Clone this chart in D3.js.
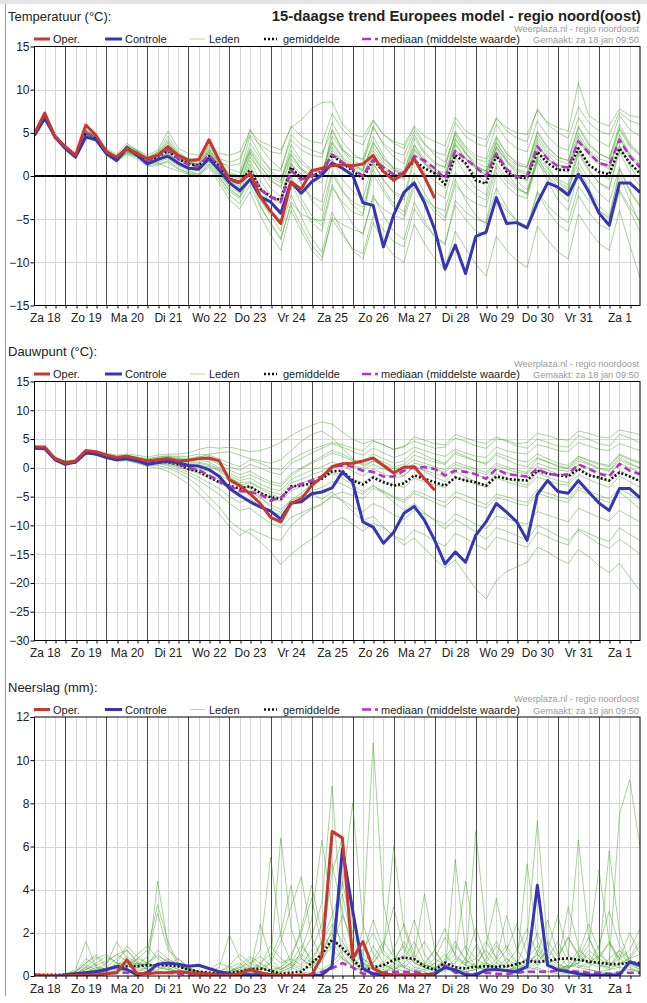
<!DOCTYPE html>
<html>
<head>
<meta charset="utf-8">
<script src="https://cdn.jsdelivr.net/npm/d3@7"></script>
<style>
  body { margin: 0; background: #fff; }
  svg { display: block; }
  text { font-family: "Liberation Sans", Arial, sans-serif; }
</style>
</head>
<body>
<svg id="chart" width="647" height="1003"></svg>
<script>
// 15-daagse trend Europees model - pluim temperatuur, dauwpunt, neerslag
// tijdstappen van 6 uur vanaf za 18 06:00 (index 0) t/m zo 2 00:00 (index 59)

const dayLabels = ['Za 18', 'Zo 19', 'Ma 20', 'Di 21', 'Wo 22', 'Do 23', 'Vr 24', 'Za 25',
    'Zo 26', 'Ma 27', 'Di 28', 'Wo 29', 'Do 30', 'Vr 31', 'Za 1'];

const legendLabels = ['Oper.', 'Controle', 'Leden', 'gemiddelde', 'mediaan (middelste waarde)'];

// ---- temperatuur (°C) ----
const tempTicks = [-15, -10, -5, 0, 5, 10, 15];
const tempOper = [4.9,7.3,4.5,3.4,2.4,5.9,4.7,2.8,2.2,3.2,2.6,2.0,2.4,3.4,2.4,1.8,1.9,4.2,1.8,-0.4,
    -0.7,0.3,-2.4,-4.1,-5.5,-0.7,-1.5,0.6,0.9,1.2,1.3,1.2,1.4,2.4,0.5,-0.5,0.3,2.0,-0.1,-2.6];
const tempControl = [4.7,6.7,4.5,3.2,2.2,4.5,4.2,2.6,1.8,3.3,2.4,1.4,1.9,2.3,1.5,0.9,0.8,2.0,0.7,-0.8,
    -1.7,-0.4,-2.4,-3.0,-4.3,-0.7,-2.0,-0.7,0.1,1.5,0.9,0.1,-3.1,-3.4,-8.2,-4.5,-1.9,-0.8,-3.1,-6.2,
    -10.8,-8.0,-11.3,-7.0,-6.5,-2.5,-5.5,-5.4,-6.0,-3.1,-0.8,-1.3,-2.2,0.2,-1.8,-4.3,-5.7,-0.8,-0.8,-1.9];
const tempMean = [4.8,7.0,4.6,3.3,2.3,5.0,4.3,2.8,2.0,3.1,2.6,1.8,2.2,2.9,2.0,1.4,1.2,2.3,1.1,-0.3,
    -0.8,0.7,-1.5,-2.4,-2.8,1.0,-0.3,0.0,0.5,2.4,1.5,0.6,-0.3,1.9,0.5,-0.1,0.4,1.8,0.9,0.3,
    -1.0,2.4,1.5,-0.5,-0.9,2.4,0.5,-0.2,-0.2,2.8,1.5,0.7,0.7,3.2,1.3,0.5,0.2,3.2,1.5,0.3];
const tempMedian = [4.8,7.0,4.6,3.3,2.3,5.0,4.3,2.8,2.0,3.1,2.6,1.8,2.3,3.0,2.0,1.3,1.1,2.4,1.0,-0.4,
    -0.9,0.4,-1.6,-2.4,-3.0,0.6,-0.4,0.0,0.4,2.5,1.6,0.8,0.0,1.9,1.0,0.2,0.3,2.3,1.8,0.9,
    -0.3,2.9,2.0,1.0,0.0,2.6,0.8,-0.1,0.0,3.4,2.0,1.1,1.0,4.0,2.7,1.5,1.2,4.2,2.3,1.0];
const tempMembers = [
    [5.0,7.4,4.9,3.6,2.6,5.4,4.6,3.2,2.5,3.8,3.0,2.4,3.0,5.2,3.2,2.6,2.4,3.8,2.6,
     2.4,2.8,5.2,4.0,3.5,3.0,5.6,6.5,7.8,8.5,8.6,6.0,4.8,4.5,6.5,4.8,4.0,3.6,5.8,4.6,4.0,3.5,6.8,5.2,4.6,4.2,6.6,5.6,5.0,4.8,7.6,6.2,5.6,5.2,10.8,7.0,6.2,5.8,7.8,7.0,6.8],
    [4.6,6.8,4.4,3.0,2.0,4.6,4.0,2.4,1.6,2.8,2.2,1.4,1.8,2.6,1.4,0.8,0.6,2.0,0.4,
     -0.8,-1.4,1.8,-0.6,-2.2,-3.0,1.2,-1.0,-2.4,-3.0,2.0,-0.4,-1.8,-2.6,1.6,-0.6,-1.8,-2.4,2.2,0.4,-0.6,-1.4,3.0,1.2,0.2,-0.6,3.4,1.6,0.6,0.2,3.8,2.0,1.0,0.4,4.2,2.4,1.4,0.8,4.4,2.2,1.0],
    [5.0,7.2,4.8,3.5,2.5,5.2,4.5,3.0,2.2,3.4,2.8,2.0,2.6,3.8,2.4,1.8,1.6,3.0,1.4,
     0.4,0.0,3.2,1.6,0.2,-0.6,3.6,1.8,0.8,0.4,3.8,2.0,1.0,0.6,3.4,1.6,0.6,0.2,3.0,1.4,0.4,-0.2,3.6,2.0,1.0,0.6,3.8,2.2,1.2,1.0,4.6,2.8,1.8,1.4,5.0,3.0,2.0,1.6,5.4,3.4,2.4],
    [4.7,6.9,4.5,3.1,2.1,4.8,4.1,2.6,1.8,2.6,2.2,1.2,1.4,1.6,0.8,0.4,0.2,1.2,-0.4,
     -2.2,-3.2,-1.0,-3.6,-5.4,-7.2,-3.4,-5.8,-8.0,-9.4,-5.0,-6.8,-8.4,-9.0,-4.6,-6.2,-7.6,-8.2,-3.8,-5.6,-7.0,-7.8,-3.4,-5.0,-6.4,-6.8,-2.6,-4.0,-5.2,-5.8,-1.8,-3.4,-4.6,-5.4,-1.2,-2.8,-4.0,-4.8,-1.6,-3.6,-5.2],
    [4.8,7.0,4.6,3.2,2.2,4.8,4.2,2.6,1.8,2.9,2.3,1.5,1.6,2.0,1.2,0.6,0.2,1.6,0.0,
     -1.8,-2.6,-0.4,-2.8,-4.6,-6.4,-2.2,-4.8,-7.2,-8.8,-4.2,-6.4,-8.6,-9.6,-5.4,-7.6,-9.2,-10.0,-5.6,-7.8,-9.6,-10.8,-6.4,-8.4,-10.2,-11.6,-7.0,-8.6,-9.8,-10.6,-5.8,-7.4,-8.8,-9.6,-4.4,-6.2,-7.8,-8.6,-4.0,-8.0,-11.8],
    [4.9,7.1,4.7,3.4,2.4,5.1,4.4,2.9,2.1,3.6,2.9,2.1,2.8,4.6,2.8,2.0,1.8,3.4,1.8,
     0.8,0.4,4.6,2.4,0.6,-0.4,2.6,0.8,-0.2,-0.8,5.4,3.2,1.8,1.2,5.8,3.6,2.2,1.4,4.8,2.8,1.6,1.0,5.2,3.4,2.4,2.0,6.0,4.2,3.2,2.8,6.4,4.6,3.4,3.0,6.8,5.0,4.0,3.4,7.0,5.4,4.6],
    [4.7,6.9,4.5,3.2,2.2,4.9,4.2,2.7,1.9,3.0,2.5,1.7,2.0,2.6,1.8,1.2,1.0,2.2,0.8,
     -0.6,-1.2,2.6,0.4,-1.4,-2.4,1.6,-0.8,-2.8,-4.0,0.6,-1.6,-3.4,-4.4,0.2,-1.8,-3.6,-4.6,-0.6,-2.6,-4.2,-5.2,-1.0,-2.4,-3.2,-3.6,1.0,-0.6,-1.6,-2.0,2.4,0.8,-0.4,-1.0,3.2,1.4,0.2,-0.4,3.6,1.6,0.2],
    [4.8,7.0,4.5,3.2,2.3,5.0,4.3,2.8,1.9,2.7,2.3,1.4,1.5,1.0,0.6,0.2,0.0,1.0,-0.8,
     -2.8,-3.8,-1.8,-4.6,-6.8,-8.6,-4.0,-6.4,-8.6,-9.8,-4.8,-5.6,-6.2,-6.6,-2.6,-3.8,-4.6,-5.0,-1.2,-2.6,-3.6,-4.0,0.4,-1.0,-2.2,-2.8,1.4,-0.2,-1.4,-2.0,2.0,0.4,-0.8,-1.6,1.6,-0.4,-2.0,-3.0,1.0,-1.6,-3.4],
    [4.9,7.2,4.7,3.4,2.4,5.2,4.4,3.0,2.2,3.3,2.8,2.0,2.4,3.4,2.2,1.6,1.4,3.0,1.6,
     1.2,1.4,5.4,3.4,1.8,0.8,4.2,3.0,2.4,2.2,6.2,4.0,2.6,1.8,4.6,2.4,0.8,0.0,3.6,1.6,0.2,-0.6,4.4,2.6,1.2,0.4,4.0,1.8,0.2,-0.6,3.0,1.0,-0.6,-1.4,2.8,0.8,-0.8,-1.6,3.4,1.2,-0.6],
    [4.6,6.8,4.4,3.1,2.1,4.7,4.1,2.5,1.7,2.5,2.0,1.1,1.2,1.8,0.9,0.3,0.0,1.4,-0.2,
     -1.6,-2.4,0.6,-2.0,-3.8,-5.2,-0.8,-3.2,-5.4,-6.4,-1.4,-3.0,-4.2,-4.6,1.4,-0.4,-2.0,-2.8,1.8,-0.2,-1.8,-2.6,2.2,0.2,-1.4,-2.2,2.6,0.4,-1.2,-2.2,1.8,-0.6,-2.8,-4.0,0.4,-2.2,-4.0,-5.0,0.8,-1.8,-3.6],
    [5.0,7.3,4.8,3.5,2.5,5.3,4.6,3.1,2.3,3.5,3.0,2.2,2.7,4.2,2.6,2.0,1.8,3.6,2.0,
     1.6,2.0,4.8,3.6,2.8,2.6,5.8,4.6,4.0,3.8,7.2,5.4,4.2,3.6,6.4,4.8,3.8,3.2,5.6,3.8,2.4,1.6,4.8,2.8,1.0,0.0,3.2,1.0,-0.6,-1.6,2.2,0.0,-1.8,-3.0,1.0,-1.4,-3.4,-4.6,0.2,-2.8,-5.6],
    [4.8,7.0,4.6,3.3,2.3,5.0,4.3,2.8,2.0,3.2,2.7,1.9,2.3,3.2,2.1,1.5,1.3,2.6,1.2,
     -0.2,-0.6,1.0,-1.2,-2.6,-3.2,1.4,0.2,-0.6,0.0,3.0,1.6,0.8,0.2,2.4,1.0,0.0,-0.4,2.6,1.4,0.4,-0.2,3.0,2.0,1.2,0.6,2.8,0.8,-0.2,-0.4,3.6,2.0,1.2,1.0,4.2,2.8,1.6,1.2,4.4,2.4,1.2],
    [4.7,6.9,4.5,3.2,2.2,4.9,4.2,2.7,1.9,2.8,2.4,1.6,1.8,2.4,1.4,0.8,0.6,1.8,0.2,
     -1.2,-2.0,1.4,-1.4,-3.2,-4.4,0.0,-2.6,-4.6,-5.8,-1.0,-3.4,-5.6,-6.8,-2.2,-4.6,-6.4,-7.4,-3.0,-5.2,-7.0,-8.0,-2.8,-4.2,-5.0,-5.4,0.4,-1.2,-2.2,-2.6,1.6,0.0,-1.2,-1.8,2.6,0.6,-0.8,-1.4,2.8,0.4,-1.2],
    [4.9,7.1,4.6,3.3,2.4,5.1,4.4,2.9,2.1,3.2,2.7,1.9,2.3,3.6,2.3,1.6,1.4,2.8,1.3,
     0.0,-0.4,3.0,1.2,-0.4,-1.4,2.0,0.6,0.0,0.2,4.6,3.0,2.2,2.0,5.6,3.8,2.8,2.4,5.2,3.6,2.8,2.4,6.2,4.6,3.8,3.4,6.8,5.2,4.4,4.0,7.8,6.0,5.0,4.4,8.0,6.2,5.2,4.8,7.4,6.4,6.0],
    [4.8,7.1,4.6,3.3,2.3,5.0,4.2,2.7,1.9,2.9,2.4,1.6,1.9,2.8,1.6,1.0,0.8,2.0,0.4,
     -1.4,-2.4,-0.2,-3.4,-5.6,-7.4,-3.0,-4.4,-5.0,-5.2,0.2,-1.8,-3.0,-3.6,0.8,-1.4,-3.2,-4.2,0.4,-2.0,-3.8,-4.8,-0.4,-2.8,-4.6,-5.6,-1.4,-3.6,-5.2,-6.2,-2.0,-4.0,-5.6,-6.4,-2.2,-4.2,-5.6,-6.2,-1.8,-4.0,-6.4],
    [4.9,7.0,4.7,3.4,2.4,5.0,4.4,2.9,2.1,3.3,2.8,2.0,2.5,4.0,2.5,1.8,1.6,3.2,1.5,
     0.2,-0.2,3.8,2.0,0.8,0.6,4.8,3.6,3.0,2.6,5.2,3.0,1.4,0.6,4.0,2.0,0.8,0.4,4.4,2.6,1.4,1.0,5.0,3.2,2.0,1.6,4.6,2.6,1.4,1.0,5.2,3.4,2.2,1.8,5.8,3.8,2.6,2.0,5.6,3.6,2.4],
    [4.8,7.0,4.6,3.3,2.3,5.1,4.3,2.8,2.0,3.1,2.6,1.8,2.2,3.1,2.0,1.4,1.2,2.6,1.0,
     -0.4,-0.8,2.2,0.6,-0.6,-1.2,2.4,0.8,0.2,0.0,3.4,1.6,0.6,0.0,3.0,1.2,0.2,-0.2,3.2,1.6,0.6,0.0,3.8,2.0,0.8,0.2,3.4,1.8,0.8,0.4,4.2,2.4,1.4,0.8,4.6,2.6,1.6,1.0,4.8,2.6,1.4],
    [4.9,7.1,4.7,3.4,2.4,5.2,4.5,3.0,2.1,3.3,2.7,1.9,2.4,3.3,2.1,1.5,1.3,2.8,1.2,
     0.2,0.0,2.8,1.0,-0.2,-0.8,3.0,1.4,0.6,0.4,4.0,2.2,1.2,0.8,3.8,2.0,1.0,0.6,3.6,2.0,0.8,0.4,4.2,2.6,1.6,1.0,4.4,2.6,1.6,1.2,5.0,3.2,2.2,1.8,5.6,3.6,2.6,2.0,6.0,3.8,2.6]
];

// ---- dauwpunt (°C) ----
const dewTicks = [-30, -25, -20, -15, -10, -5, 0, 5, 10, 15];
const dewOper = [3.6,3.6,1.6,0.8,1.2,3.0,2.8,2.2,1.8,2.0,1.6,1.2,1.4,1.6,1.2,1.3,1.6,1.7,1.2,-2.1,
    -3.1,-4.5,-6.2,-8.6,-9.4,-6.2,-5.4,-3.1,-1.6,0.2,0.7,0.8,1.2,1.7,0.4,-0.9,0.1,0.2,-1.9,-3.9];
const dewControl = [3.4,3.3,1.4,0.6,1.0,2.6,2.4,1.8,1.4,1.6,1.2,0.6,0.9,1.2,0.9,0.4,0.3,-0.3,-1.5,-3.6,
    -4.8,-5.9,-6.8,-7.5,-8.9,-6.1,-5.9,-4.5,-4.2,-3.5,-0.7,-2.5,-9.4,-10.3,-13.1,-11.2,-7.9,-6.7,-9.1,-12.6,
    -16.7,-14.6,-16.4,-11.7,-9.4,-6.2,-7.7,-9.4,-12.6,-4.6,-2.2,-4.1,-4.4,-2.2,-4.2,-6.1,-7.4,-3.6,-3.6,-5.2];
const dewMean = [3.6,3.4,1.6,0.9,1.0,2.6,2.4,2.0,1.5,1.6,1.3,1.0,1.1,1.0,0.6,-0.2,-0.6,-1.6,-2.5,-3.1,
    -3.6,-3.2,-4.4,-5.1,-5.4,-3.2,-3.1,-2.7,-1.9,-0.6,-0.5,-2.2,-2.9,-1.7,-2.5,-3.1,-2.7,-1.3,-1.9,-2.5,
    -3.1,-1.7,-2.2,-2.5,-3.1,-1.5,-1.9,-2.1,-2.2,-0.5,-1.0,-1.3,-1.5,-0.2,-1.3,-1.7,-2.2,-0.8,-1.5,-2.3];
const dewMedian = [3.6,3.4,1.6,0.9,1.0,2.6,2.4,2.0,1.5,1.6,1.3,1.0,1.1,1.1,0.7,0.0,-0.4,-1.3,-2.3,-3.2,
    -4.0,-4.2,-4.6,-5.7,-5.2,-3.4,-2.8,-2.2,-1.5,0.1,0.4,0.2,-0.5,-0.7,-1.5,-1.5,-0.5,0.1,0.1,-0.2,
    -1.3,-0.5,-0.7,-1.1,-1.9,-0.2,-1.1,-1.3,-1.5,-0.2,-1.0,-1.3,-1.1,0.6,-0.2,-1.0,-1.5,0.7,-0.5,-1.1];
const dewMembers = [
    [3.8,3.6,1.9,1.2,1.4,3.0,2.9,2.6,2.2,2.4,2.2,1.9,2.2,2.4,2.4,2.6,3.2,3.6,3.4,3.6,3.2,2.8,3.0,3.6,4.4,5.6,6.6,7.4,8.0,7.6,
     6.2,5.0,4.2,4.8,4.0,3.2,3.8,4.6,4.0,3.4,3.6,5.2,4.6,3.8,3.4,5.0,4.8,4.2,4.4,6.0,5.6,5.0,4.8,6.4,6.0,5.4,5.2,6.6,6.2,5.8],
    [3.6,3.4,1.6,0.9,1.1,2.7,2.5,2.1,1.6,1.8,1.5,1.1,1.3,1.3,1.0,0.6,0.4,0.2,-0.6,-1.8,-2.6,-2.4,-3.4,-4.2,-4.6,-2.6,-2.0,-1.2,-0.6,0.4,
     0.8,0.2,-0.4,0.6,-0.2,-0.8,-0.4,0.8,0.4,-0.2,-0.8,0.6,0.0,-0.6,-1.2,0.4,-0.2,-0.8,-1.0,0.8,0.2,-0.4,-0.6,1.2,0.6,-0.2,-0.6,1.4,0.6,0.0],
    [3.5,3.3,1.5,0.8,0.9,2.5,2.3,1.8,1.2,1.3,0.9,0.4,0.4,0.0,-0.8,-1.8,-3.2,-5.0,-6.8,-9.2,-10.6,-11.4,-12.8,-14.6,-16.8,-15.0,-13.6,-12.4,-11.2,-9.4,
     -8.6,-9.8,-11.0,-9.6,-10.4,-11.8,-12.6,-10.8,-11.6,-12.8,-13.6,-11.4,-12.2,-13.4,-14.2,-12.0,-12.6,-13.2,-13.8,-11.2,-12.0,-12.8,-13.4,-10.6,-11.4,-12.2,-12.8,-10.4,-11.6,-12.6],
    [3.6,3.4,1.6,0.9,1.0,2.6,2.4,2.0,1.5,1.6,1.3,0.9,1.0,0.8,0.2,-0.4,-1.0,-1.8,-2.6,-3.6,-4.4,-4.0,-5.2,-6.4,-7.2,-5.6,-5.0,-4.6,-5.4,-4.2,
     -5.8,-7.6,-9.2,-8.4,-10.2,-12.0,-13.4,-12.2,-14.0,-15.8,-17.4,-16.0,-18.6,-21.0,-22.8,-19.6,-18.0,-17.2,-16.4,-13.8,-14.6,-15.8,-16.6,-14.2,-15.4,-17.0,-18.2,-16.6,-19.0,-21.4],
    [3.7,3.5,1.8,1.1,1.3,2.9,2.7,2.3,1.9,2.1,1.8,1.5,1.8,2.0,1.8,1.6,2.0,1.8,1.0,0.2,-0.4,0.6,0.0,-0.8,-1.2,0.8,1.6,2.6,3.4,4.2,
     3.6,2.8,2.2,3.4,2.6,1.8,2.4,3.6,3.0,2.4,2.0,3.2,2.6,2.0,1.8,3.6,3.0,2.6,2.4,4.0,3.6,3.0,2.8,4.4,3.8,3.2,3.0,4.2,3.6,3.0],
    [3.5,3.3,1.5,0.8,0.9,2.5,2.3,1.9,1.4,1.5,1.1,0.7,0.7,0.4,-0.4,-1.2,-2.2,-3.4,-4.6,-6.2,-7.4,-7.0,-8.4,-9.6,-10.4,-8.6,-7.8,-7.0,-6.2,-5.0,
     -5.6,-6.8,-7.6,-6.2,-7.0,-8.2,-9.0,-7.4,-8.0,-9.0,-9.8,-8.0,-8.8,-9.8,-10.6,-8.4,-8.8,-9.4,-9.8,-7.6,-8.2,-8.8,-9.4,-7.0,-7.8,-8.6,-9.2,-7.4,-8.4,-9.4],
    [3.7,3.5,1.7,1.0,1.2,2.8,2.6,2.1,1.7,1.9,1.6,1.2,1.5,1.7,1.4,1.2,1.4,1.0,0.0,-1.6,-2.8,-3.6,-5.0,-6.8,-7.8,-5.6,-4.4,-2.8,-1.6,-0.2,
     0.6,0.4,0.0,1.2,0.6,-0.2,0.2,1.4,0.8,0.2,-0.4,1.0,0.4,-0.2,-0.8,0.8,0.2,-0.4,-0.8,1.6,1.0,0.4,0.0,2.0,1.2,0.6,0.2,2.2,1.4,0.8],
    [3.6,3.4,1.6,0.9,1.0,2.6,2.4,2.0,1.5,1.6,1.2,0.8,0.8,0.6,0.0,-0.8,-1.6,-2.6,-3.6,-5.0,-6.0,-5.4,-6.6,-7.6,-8.2,-6.0,-4.8,-4.0,-3.4,-2.4,
     -2.8,-3.8,-4.6,-3.2,-4.0,-5.0,-5.6,-4.0,-4.6,-5.4,-6.0,-4.2,-4.8,-5.6,-6.4,-4.6,-5.0,-5.6,-6.0,-3.8,-4.4,-5.0,-5.4,-3.4,-4.0,-4.8,-5.4,-3.6,-4.6,-5.6],
    [3.7,3.5,1.8,1.1,1.2,2.8,2.6,2.2,1.8,2.0,1.7,1.3,1.6,1.9,1.6,1.4,1.8,2.4,2.6,2.8,2.2,1.6,1.2,0.8,1.4,3.0,4.6,5.8,6.4,5.2,
     3.4,1.6,0.4,1.2,0.2,-0.8,-1.4,0.4,-0.6,-1.6,-2.4,-0.6,-1.6,-2.4,-3.0,-1.0,-1.8,-2.6,-3.0,-0.8,-1.6,-2.2,-2.6,-0.2,-1.0,-1.8,-2.4,-0.4,-1.4,-2.4],
    [3.5,3.3,1.5,0.8,0.9,2.4,2.2,1.7,1.2,1.2,0.8,0.2,0.0,-0.6,-1.6,-2.8,-4.4,-6.2,-8.0,-10.2,-11.8,-10.6,-11.4,-12.2,-12.6,-10.0,-8.4,-7.2,-6.4,-4.8,
     -4.2,-4.8,-5.4,-3.6,-4.2,-5.2,-6.0,-4.4,-5.2,-6.0,-6.8,-5.0,-5.8,-6.4,-7.0,-5.2,-5.6,-6.2,-6.6,-4.4,-5.0,-5.6,-6.0,-3.8,-4.6,-5.4,-6.0,-4.2,-5.6,-7.2],
    [3.6,3.5,1.7,1.0,1.1,2.7,2.5,2.1,1.7,1.8,1.5,1.2,1.4,1.5,1.2,1.0,1.0,0.6,-0.2,-1.0,-1.8,-1.2,-2.0,-2.8,-3.2,-1.4,-0.2,0.8,1.6,2.6,
     2.0,1.2,0.6,1.8,1.0,0.2,0.6,2.2,1.6,1.0,0.6,2.4,1.8,1.2,0.8,2.6,2.0,1.4,1.0,2.4,1.6,0.8,0.4,2.0,1.4,0.8,0.4,2.4,1.6,1.0],
    [3.6,3.4,1.6,0.9,1.0,2.6,2.4,1.9,1.4,1.5,1.2,0.8,0.9,0.8,0.4,-0.2,-0.8,-1.2,-2.0,-3.0,-3.8,-3.2,-4.2,-5.2,-5.8,-4.0,-3.2,-2.4,-1.8,-1.0,
     -1.8,-3.0,-4.2,-3.0,-4.4,-6.0,-7.4,-6.2,-7.8,-9.2,-10.6,-9.0,-10.0,-11.2,-12.4,-10.4,-11.0,-11.8,-12.6,-10.0,-10.8,-11.8,-12.6,-10.8,-12.0,-13.2,-14.0,-12.4,-13.6,-15.0],
    [3.7,3.6,1.8,1.1,1.3,2.9,2.8,2.4,2.0,2.2,1.9,1.6,1.9,2.1,2.0,2.0,2.4,2.2,1.6,0.8,0.2,1.4,0.8,0.0,-0.4,1.4,2.4,3.2,3.8,4.4,
     4.0,3.4,3.0,4.6,4.0,3.2,3.6,5.4,4.8,4.2,4.0,5.8,5.2,4.6,4.2,5.4,4.6,3.8,3.4,5.0,4.4,3.8,3.6,5.6,5.0,4.2,3.8,5.8,5.2,4.4],
    [3.6,3.4,1.6,0.9,1.0,2.6,2.4,2.0,1.5,1.7,1.4,1.0,1.2,1.1,0.7,0.2,-0.2,-0.6,-1.2,-2.2,-3.0,-2.6,-3.6,-4.6,-5.2,-3.6,-2.8,-2.0,-1.4,-0.8,
     -1.2,-2.0,-2.6,-1.4,-2.2,-3.0,-3.4,-1.8,-2.4,-3.0,-3.4,-1.6,-2.2,-2.8,-3.4,-1.8,-2.4,-3.0,-3.4,-1.6,-2.2,-2.8,-3.0,-1.2,-2.0,-2.8,-3.4,-1.4,-2.4,-3.4],
    [3.6,3.5,1.7,1.0,1.1,2.7,2.5,2.1,1.6,1.7,1.4,1.1,1.3,1.4,1.1,0.8,0.8,0.4,-0.4,-1.4,-2.2,-1.8,-2.8,-3.6,-4.0,-2.0,-1.2,-0.4,0.2,1.0,
     0.4,-0.6,-1.4,-0.2,-1.0,-1.8,-1.4,0.2,-0.4,-1.0,-1.6,0.0,-0.6,-1.2,-1.8,-0.2,-0.8,-1.4,-1.6,0.2,-0.4,-1.0,-1.4,0.6,0.0,-0.8,-1.2,0.8,0.0,-0.8],
    [3.7,3.5,1.7,1.0,1.2,2.8,2.6,2.2,1.7,1.9,1.6,1.3,1.6,1.8,1.5,1.4,1.6,1.4,0.6,-0.4,-1.2,-0.6,-1.6,-2.4,-2.8,-1.0,0.0,1.0,2.0,3.0,
     2.4,1.4,0.8,2.4,1.6,0.8,1.2,3.0,2.2,1.4,0.8,2.8,2.0,1.2,0.6,2.2,1.4,0.6,0.2,1.8,1.0,0.2,-0.2,1.6,0.8,0.0,-0.4,1.8,0.8,0.0]
];

// ---- neerslag (mm per 6 uur) ----
const rainTicks = [0, 2, 4, 6, 8, 10, 12];
const rainOper = [0.05,0.02,0,0,0.02,0.05,0.05,0.1,0.15,0.75,0.1,0.1,0.15,0.15,0.2,0.15,0.1,0.1,0.05,0.05,
    0.1,0.3,0.15,0.05,0.02,0.02,0.02,0.05,0.9,6.7,6.4,0.8,1.6,0.35,0.1,0.05,0.05,0.05,0.05,0.05];
const rainControl = [0,0,0,0.05,0.1,0.15,0.2,0.3,0.43,0.3,0.05,0.15,0.55,0.6,0.55,0.45,0.5,0.35,0.2,0.1,
    0.05,0.05,0.05,0.05,0.02,0.02,0.02,0.02,0.05,0.45,5.9,3.05,0.35,0.1,0.05,0.05,0.05,0.05,0.05,0.1,
    0.4,0.28,0.05,0.05,0.28,0.3,0.25,0.2,0.43,4.2,0.5,0.28,0.2,0.1,0.05,0.05,0.05,0.05,0.66,0.5];
const rainMean = [0.05,0.05,0.05,0.05,0.1,0.15,0.2,0.3,0.45,0.45,0.45,0.5,0.5,0.5,0.45,0.3,0.2,0.15,0.15,0.15,
    0.2,0.3,0.35,0.25,0.1,0.15,0.2,0.6,1.0,1.7,1.3,0.8,0.25,0.4,0.5,0.75,0.86,0.78,0.45,0.28,
    0.62,0.4,0.35,0.43,0.45,0.43,0.45,0.55,0.7,0.65,0.7,0.78,0.82,0.75,0.66,0.62,0.55,0.55,0.62,0.6];
const rainMedian = [0,0,0,0,0.02,0.05,0.05,0.1,0.15,0.15,0.1,0.15,0.15,0.15,0.1,0.05,0.05,0.05,0.05,0.05,
    0.05,0.1,0.1,0.05,0.02,0.05,0.05,0.1,0.2,0.35,0.6,0.4,0.1,0.1,0.15,0.2,0.2,0.2,0.1,0.05,
    0.5,0.15,0.1,0.1,0.15,0.1,0.1,0.15,0.2,0.2,0.2,0.25,0.25,0.2,0.15,0.15,0.1,0.15,0.15,0.15];
const rainMembers = [
    [0,0,0,0.1,0.3,1.6,0.4,0.2,0.5,0.9,0.6,0.3,4.4,1.4,0.5,0.2,0.1,0.0,0.0,0.1,0.3,0.8,0.4,0.2,0.1,0.3,1.2,2.6,6.3,3.0,
     1.2,0.6,0.3,0.8,1.6,0.9,0.4,0.2,0.6,1.2,0.5,0.3,0.8,2.2,0.9,0.4,0.2,0.5,1.8,7.2,1.4,0.6,0.3,1.0,2.4,1.2,0.5,0.8,2.0,1.0],
    [0.1,0,0,0,0.1,0.4,0.8,1.0,0.6,0.4,0.8,1.2,3.3,1.6,0.6,0.3,0.2,0.1,0.2,0.4,0.6,0.2,2.4,0.8,0.3,0.5,0.9,1.8,3.4,8.8,
     2.0,0.6,0.4,1.4,0.6,0.3,0.8,1.6,0.6,0.3,0.2,5.4,1.2,0.4,0.6,1.4,0.8,0.3,0.4,1.2,0.6,0.3,0.9,6.3,1.8,0.6,0.4,1.2,0.8,0.4],
    [0,0,0,0,0.2,0.6,1.0,0.5,1.6,0.8,0.5,0.9,2.9,1.2,0.8,0.4,0.2,0.1,0,0,0.2,0.5,1.2,5.5,1.8,0.6,0.4,0.8,1.6,2.8,
     4.2,8.0,2.4,1.0,0.5,0.3,0.6,1.0,3.8,1.2,0.4,0.2,0.5,6.7,2.0,0.8,0.4,0.6,5.2,1.6,0.7,0.4,0.3,0.8,1.4,4.9,1.6,0.6,0.8,1.4],
    [0,0,0,0.1,0.2,0.5,0.3,0.6,1.0,1.2,0.7,0.4,0.6,0.4,0.2,0.1,0.1,0.2,0.4,1.9,0.8,0.4,0.2,0.6,6.4,2.2,0.8,0.4,1.2,2.0,
     1.0,0.4,2.2,10.8,3.4,1.0,0.4,0.2,0.3,0.6,1.0,0.4,0.2,0.3,0.8,1.6,0.6,0.3,0.5,1.0,2.6,1.0,0.4,0.6,1.2,0.8,5.8,2.0,0.6,0.3],
    [0,0,0,0,0.1,0.3,0.6,0.9,0.6,0.5,0.8,0.6,0.4,0.3,0.2,0.1,0,0,0.1,0.2,0.5,0.9,0.6,0.3,0.4,1.0,2.0,3.6,1.4,4.8,
     6.4,2.4,1.0,0.6,1.2,6.0,2.2,0.8,0.4,0.2,0.6,1.4,0.8,0.4,0.3,0.6,1.2,2.4,1.0,0.5,0.8,1.6,0.7,0.4,0.6,1.0,0.6,7.5,9.1,6.0],
    [0.1,0,0,0,0,0.2,0.4,0.3,0.5,0.7,0.4,0.3,0.5,0.8,0.5,0.3,0.2,0.1,0.1,0.3,0.2,0.4,0.3,0.6,1.6,3.2,4.6,1.8,0.8,1.4,
     2.8,1.6,0.8,0.5,0.4,0.8,1.4,0.6,0.4,0.8,1.8,1.0,0.5,0.4,1.4,3.6,1.2,0.5,0.8,1.4,0.6,0.3,0.5,1.2,0.8,0.5,0.4,1.0,0.6,0.4],
    [0,0,0,0,0.1,0.2,0.3,0.2,0.4,0.6,0.3,0.2,0.3,0.5,0.8,0.4,0.2,0.1,0,0.1,0.3,0.2,0.1,0.2,0.4,0.8,0.5,1.2,2.4,5.2,
     3.0,1.2,0.6,0.4,0.3,0.6,1.0,2.6,1.0,0.4,0.3,0.8,0.5,1.4,0.6,0.3,0.2,0.4,0.8,2.0,0.9,0.5,0.4,0.6,1.0,0.5,0.3,0.6,0.4,0.2],
    [0,0,0,0,0,0.1,0.2,0.4,0.3,0.2,0.4,0.6,1.0,0.6,0.3,0.2,0.1,0.3,0.6,0.4,0.2,0.1,0.3,0.8,2.0,4.2,1.6,0.6,1.0,2.2,
     3.8,1.4,0.6,0.3,0.6,1.2,2.4,1.0,0.5,0.4,0.6,1.0,4.4,1.6,0.6,0.4,0.8,0.5,0.3,0.6,1.2,2.8,1.0,0.5,0.4,0.8,1.6,0.8,0.5,0.3],
    [0,0,0,0,0.1,0.4,0.2,0.1,0.3,0.5,1.0,1.4,0.8,0.5,0.3,0.2,0.1,0.1,0.2,0.5,1.0,0.6,0.4,0.2,0.3,0.6,1.4,0.8,0.6,1.8,
     4.4,2.0,0.8,0.4,0.2,0.5,0.9,0.4,0.3,0.6,0.4,0.2,0.3,0.6,1.2,0.6,0.4,0.3,0.6,1.0,0.5,0.3,0.4,0.8,1.8,0.8,0.5,0.4,0.9,1.6],
    [0,0,0,0,0,0.1,0.1,0.2,0.2,0.3,0.2,0.4,0.6,0.3,0.2,0.1,0,0,0,0.1,0.1,0.2,0.1,0.1,0.2,0.4,0.8,0.5,0.3,0.6,
     1.2,0.8,0.5,0.3,0.2,0.3,0.5,0.3,0.2,0.4,0.3,0.2,0.2,0.3,0.5,0.3,0.2,0.3,0.4,0.3,0.2,0.3,0.5,0.4,0.3,0.2,0.3,0.4,0.3,0.2],
    [0.1,0,0,0,0.1,0.3,0.5,0.7,1.0,0.7,0.5,0.6,0.9,0.7,0.4,0.3,0.2,0.1,0.1,0.2,0.4,0.6,0.9,0.5,0.3,0.6,1.0,0.6,1.6,2.4,
     1.6,0.8,1.2,2.0,1.0,0.6,1.6,0.8,0.5,1.2,2.2,0.9,0.6,0.8,1.6,0.8,2.8,1.2,0.6,0.8,1.6,0.9,1.8,1.0,0.6,0.9,1.5,0.8,1.2,2.2],
    [0,0,0,0,0.2,0.8,0.5,0.3,0.6,1.4,0.9,0.6,0.4,0.3,0.5,0.3,0.1,0,0,0,0.1,0.3,0.5,1.4,0.8,0.5,0.3,0.4,0.9,1.6,
     0.8,0.4,0.3,0.6,1.4,3.2,1.2,0.6,0.4,0.3,0.8,1.6,0.7,0.4,0.3,0.8,1.4,0.6,0.4,0.7,1.2,0.6,3.2,1.4,0.6,0.4,0.8,1.2,0.6,0.4],
    [0,0,0,0,0,0.1,0.2,0.1,0.2,0.4,0.6,0.3,0.2,0.1,0.1,0,0,0,0,0,0.1,0.1,0.2,0.1,0.2,0.4,0.2,0.1,0.2,0.5,
     0.9,0.4,0.2,0.1,0.2,0.4,0.2,0.1,0.1,0.2,0.4,0.2,0.1,0.1,0.2,0.3,0.2,0.1,0.2,0.4,0.2,0.1,0.1,0.2,0.3,0.2,0.1,0.2,0.3,0.2],
    [0,0,0,0.1,0.2,0.6,0.9,0.4,0.8,1.2,0.6,0.5,1.2,0.8,0.5,0.3,0.2,0.1,0.1,0.2,0.4,0.3,0.6,1.0,0.6,0.8,2.2,4.2,2.0,1.2,
     0.8,0.5,1.0,2.6,1.2,0.6,0.4,0.8,1.6,0.8,0.5,0.6,1.4,0.8,0.5,0.4,0.6,1.2,2.2,1.0,0.6,0.8,1.8,0.9,0.6,1.4,3.0,1.4,0.8,1.0]
];

// ---- opbouw ----
const W = 647, H = 1003;
const PLOT_H = 259;
const x = d3.scaleLinear().domain([0, 59]).range([34.5, 640]);
const steps = d3.range(0, 60);
const noonSteps = dayLabels.map((d, k) => 1 + 4 * k);
const midnightSteps = d3.range(3, 59, 4);

const styles = {
    oper:    { stroke: '#c9372e', width: 3 },
    control: { stroke: '#3535b5', width: 3 },
    member:  { stroke: '#3a9c1c', width: 1, opacity: 0.44 },
    mean:    { stroke: '#111111', width: 2.6, dash: '2,2' },
    median:  { stroke: '#b731c9', width: 2.6, dash: '7,4' }
};

const panels = [
    { title: 'Temperatuur (°C):', offset: 0, ticks: tempTicks, zero: true, main: true,
      members: tempMembers, oper: tempOper, control: tempControl, mean: tempMean, median: tempMedian },
    { title: 'Dauwpunt (°C):', offset: 335, ticks: dewTicks, zero: false,
      members: dewMembers, oper: dewOper, control: dewControl, mean: dewMean, median: dewMedian },
    { title: 'Neerslag (mm):', offset: 670.5, ticks: rainTicks, zero: false,
      members: rainMembers, oper: rainOper, control: rainControl, mean: rainMean, median: rainMedian }
];

const svg = d3.select('#chart');

// achtergrond / kader
svg.append('rect').attr('width', W).attr('height', H).attr('fill', '#ffffff');
svg.append('rect').attr('width', W).attr('height', 4).attr('fill', '#e4e4e4');
svg.append('line')
    .attr('x1', 5.5).attr('x2', 5.5).attr('y1', 4).attr('y2', 996)
    .attr('stroke', '#9a9a9a').attr('stroke-width', 1);

function applyStyle(sel, st) {
    sel.attr('fill', 'none')
        .attr('stroke', st.stroke)
        .attr('stroke-width', st.width)
        .attr('stroke-linejoin', 'round');
    if (st.dash) sel.attr('stroke-dasharray', st.dash);
    if (st.opacity) sel.attr('stroke-opacity', st.opacity);
    return sel;
}

function drawPanel(p, idx) {
    const off = p.offset;
    const top = 46.5 + off;
    const bottom = top + PLOT_H;
    const y = d3.scaleLinear().domain(d3.extent(p.ticks)).range([bottom, top]);
    const g = svg.append('g').attr('class', 'panel');

    // titel
    g.append('text')
        .attr('x', 8).attr('y', 21 + off)
        .attr('font-size', 13).attr('fill', '#222')
        .text(p.title);

    if (p.main) {
        g.append('text')
            .attr('x', 641).attr('y', 21)
            .attr('text-anchor', 'end')
            .attr('font-size', 14.8).attr('font-weight', 'bold').attr('fill', '#222')
            .text('15-daagse trend Europees model - regio noord(oost)');
    }

    g.append('text')
        .attr('x', 639).attr('y', 31.5 + off)
        .attr('text-anchor', 'end').attr('font-size', 9.5).attr('fill', '#9a9a9a')
        .attr('textLength', 125).attr('lengthAdjust', 'spacingAndGlyphs')
        .text('Weerplaza.nl - regio noordoost');
    g.append('text')
        .attr('x', 639).attr('y', 43 + off)
        .attr('text-anchor', 'end').attr('font-size', 9.5).attr('fill', '#9a9a9a')
        .attr('textLength', 106).attr('lengthAdjust', 'spacingAndGlyphs')
        .text('Gemaakt: za 18 jan 09:50');

    // legenda
    const legendKeys = ['oper', 'control', 'member', 'mean', 'median'];
    const legendPos = [[34, 50, 53], [105, 122, 125], [190, 205, 209], [264, 277, 283], [362, 378, 381]];
    const ly = 43 + off;
    legendKeys.forEach((k, j) => {
        const [a, b, tx] = legendPos[j];
        const st = k === 'member' ? { stroke: '#b2d9a4', width: 1 } : styles[k];
        applyStyle(g.append('line')
            .attr('x1', a).attr('x2', b).attr('y1', ly - 4).attr('y2', ly - 4), st)
            .attr('stroke-dasharray', k === 'median' ? '9,4' : (st.dash || null));
        g.append('text')
            .attr('x', tx).attr('y', ly)
            .attr('font-size', 11).attr('fill', '#222')
            .text(legendLabels[j]);
    });

    // raster
    g.append('g').selectAll('line')
        .data(p.ticks.slice(1, -1))
        .join('line')
        .attr('x1', x(0)).attr('x2', x(59))
        .attr('y1', d => Math.round(y(d)) + 0.5).attr('y2', d => Math.round(y(d)) + 0.5)
        .attr('stroke', '#d6d6d6');

    g.append('g').selectAll('line')
        .data(steps.slice(1, -1).filter(s => !midnightSteps.includes(s)))
        .join('line')
        .attr('x1', d => Math.round(x(d)) + 0.5).attr('x2', d => Math.round(x(d)) + 0.5)
        .attr('y1', top).attr('y2', bottom)
        .attr('stroke', '#d6d6d6');

    g.append('g').selectAll('line')
        .data(midnightSteps)
        .join('line')
        .attr('x1', d => Math.round(x(d)) + 0.5).attr('x2', d => Math.round(x(d)) + 0.5)
        .attr('y1', top).attr('y2', bottom)
        .attr('stroke', '#4a4a4a');

    // lijnen
    const clipId = 'clip' + idx;
    svg.append('clipPath').attr('id', clipId)
        .append('rect').attr('x', x(0)).attr('y', top).attr('width', x(59) - x(0)).attr('height', PLOT_H);
    const lines = g.append('g').attr('clip-path', `url(#${clipId})`);
    const line = d3.line().x((d, i) => x(i)).y(d => y(d));

    lines.selectAll('path.member')
        .data(p.members)
        .join('path')
        .attr('class', 'member')
        .attr('d', line)
        .call(sel => applyStyle(sel, styles.member));

    if (p.zero) {
        lines.append('line')
            .attr('x1', x(0)).attr('x2', x(59))
            .attr('y1', y(0)).attr('y2', y(0))
            .attr('stroke', '#000').attr('stroke-width', 2.2);
    }

    applyStyle(lines.append('path').datum(p.mean).attr('d', line), styles.mean);
    applyStyle(lines.append('path').datum(p.median).attr('d', line), styles.median);
    applyStyle(lines.append('path').datum(p.control).attr('d', line), styles.control);
    applyStyle(lines.append('path').datum(p.oper).attr('d', line), styles.oper);

    // kader
    g.append('rect')
        .attr('x', x(0)).attr('y', top)
        .attr('width', x(59) - x(0)).attr('height', PLOT_H)
        .attr('fill', 'none').attr('stroke', '#000');

    // assen
    const yAxis = g.append('g')
        .attr('transform', `translate(${x(0)},0)`)
        .call(d3.axisLeft(y).tickValues(p.ticks).tickSize(4).tickSizeOuter(0).tickFormat(d3.format('d')));
    yAxis.select('.domain').remove();
    yAxis.selectAll('text').attr('font-size', 12).attr('fill', '#222').attr('font-family', null).attr('x', -5);

    const xTicks = g.append('g')
        .attr('transform', `translate(0,${bottom})`)
        .call(d3.axisBottom(x).tickValues(steps.slice(1, -1)).tickSize(3).tickSizeOuter(0).tickFormat(''));
    xTicks.select('.domain').remove();
    xTicks.selectAll('line').attr('transform', d => `translate(${Math.round(x(d)) + 0.5 - x(d)},0)`);

    const xLabels = g.append('g')
        .attr('transform', `translate(0,${bottom})`)
        .call(d3.axisBottom(x).tickValues(noonSteps).tickSize(0).tickFormat((d, k) => dayLabels[k]));
    xLabels.select('.domain').remove();
    xLabels.selectAll('text').attr('font-size', 12).attr('fill', '#222').attr('font-family', null)
        .attr('dy', null).attr('y', 16.5);
}

panels.forEach(drawPanel);
</script>
</body>
</html>
